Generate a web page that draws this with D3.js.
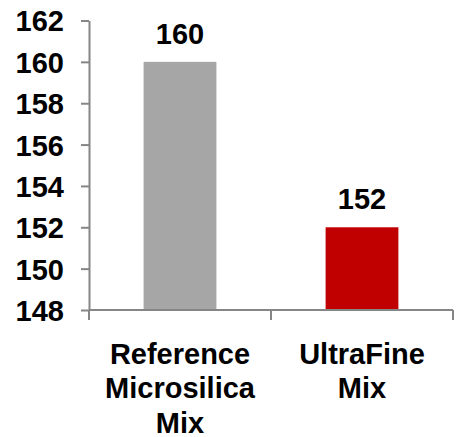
<!DOCTYPE html>
<html lang="en">
  <head>
    <meta charset="UTF-8" />
    <title>Mix comparison</title>
    <script src="https://d3js.org/d3.v7.min.js"></script>
    <style>
      body {
        margin: 0;
        padding: 0;
        background: #fff;
      }
      svg {
        display: block;
        font-family: "Liberation Sans", Arial, sans-serif;
        font-weight: bold;
      }
      .axis path,
      .axis line {
        stroke: #868686;
        stroke-width: 2;
      }
      .axis text {
        font-size: 29px;
        font-weight: bold;
        fill: #000;
      }
      .value {
        font-size: 29px;
        fill: #000;
        text-anchor: middle;
      }
      .cat {
        font-size: 29px;
        fill: #000;
        text-anchor: middle;
      }
    </style>
  </head>
  <body>
    <script>
      // Data
      const categories = ["Reference Microsilica Mix", "UltraFine Mix"];
      const categoryLines = [["Reference", "Microsilica", "Mix"], ["UltraFine", "Mix"]];
      const values = [160, 152];
      const colors = ["#a6a6a6", "#c00000"];
      const yTicks = [148, 150, 152, 154, 156, 158, 160, 162];

      const width = 458,
            height = 437;
      const margin = { top: 20.5, right: 5, bottom: 127, left: 89 };

      const svg = d3.select("body")
                    .append("svg")
                    .attr("width", width)
                    .attr("height", height);

      // Scales
      const x = d3.scaleBand()
                  .domain(categories)
                  .range([margin.left, width - margin.right])
                  .padding(0);
      const y = d3.scaleLinear()
                  .domain([148, 162])
                  .range([height - margin.bottom, margin.top]);

      // Bars (40% of each category slot, centered)
      const barW = x.bandwidth() * 0.4;
      svg.append("g")
         .selectAll("rect")
         .data(categories)
         .join("rect")
         .attr("x", d => x(d) + (x.bandwidth() - barW) / 2)
         .attr("width", barW)
         .attr("y", (d, i) => y(values[i]))
         .attr("height", (d, i) => y(148) - y(values[i]))
         .attr("fill", (d, i) => colors[i]);

      // Value labels above the bars
      svg.append("g")
         .selectAll("text")
         .data(categories)
         .join("text")
         .attr("class", "value")
         .attr("x", d => x(d) + x.bandwidth() / 2)
         .attr("y", (d, i) => y(values[i]) - 18)
         .text((d, i) => values[i]);

      // Y axis
      const yAxis = svg.append("g")
         .attr("class", "axis")
         .attr("transform", `translate(${margin.left},0)`)
         .call(d3.axisLeft(y)
                 .tickValues(yTicks)
                 .tickSize(8)
                 .tickSizeOuter(0)
                 .tickPadding(17));
      yAxis.selectAll("text").attr("dy", "0.36em");

      // X axis: line with ticks at the slot boundaries
      const xAxis = svg.append("g").attr("class", "axis");
      const x0 = x.range()[0], x1 = x.range()[1];
      xAxis.append("path")
           .attr("d", `M${x0},${y(148)}H${x1}`);
      const bounds = categories.map(c => x(c)).concat([x1]);
      xAxis.selectAll("line")
           .data(bounds)
           .join("line")
           .attr("x1", d => d)
           .attr("x2", d => d)
           .attr("y1", y(148))
           .attr("y2", y(148) + 10);

      // Category labels
      categories.forEach((c, i) => {
        const t = svg.append("text")
                     .attr("class", "cat")
                     .attr("x", x(c) + x.bandwidth() / 2)
                     .attr("y", 363.5);
        categoryLines[i].forEach((line, j) => {
          t.append("tspan")
           .attr("x", x(c) + x.bandwidth() / 2)
           .attr("dy", j === 0 ? 0 : 34.8)
           .text(line);
        });
      });
    </script>
  </body>
</html>
